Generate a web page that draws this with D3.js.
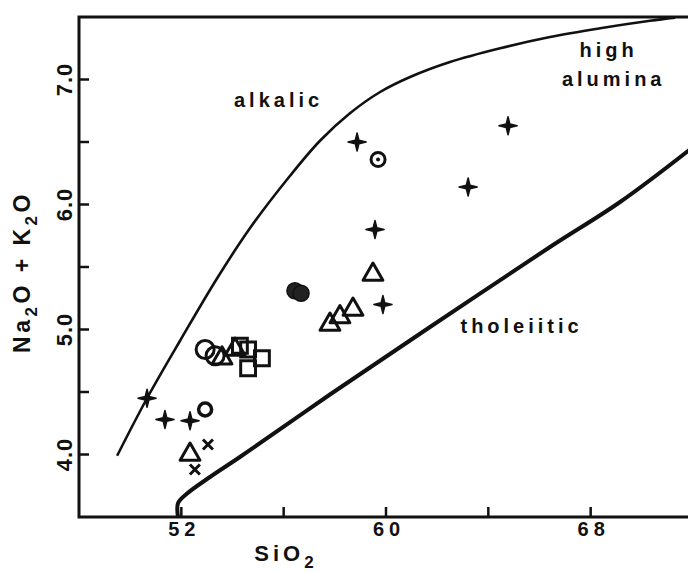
<!DOCTYPE html>
<html>
<head>
<meta charset="utf-8">
<script src="https://cdn.jsdelivr.net/npm/d3@7"></script>
<style>
  html, body { margin: 0; padding: 0; background: #fff; }
  svg text { font-family: "Liberation Sans", Arial, sans-serif; font-weight: bold; fill: #111; }
</style>
</head>
<body>
<svg id="chart" width="688" height="573"></svg>
<script>
// Boundary curves [SiO2, Na2O+K2O]
const alkalicLine = [
  [49.49, 3.99], [50.66, 4.45], [51.95, 4.91], [53.40, 5.41], [54.68, 5.81],
  [56.25, 6.23], [57.42, 6.51], [58.59, 6.73], [59.77, 6.90], [60.94, 7.02],
  [62.50, 7.14], [64.46, 7.25], [66.41, 7.34], [68.37, 7.41], [70.32, 7.47],
  [71.30, 7.495]
];
const tholeiiticLine = [
  [51.87, 3.50], [51.87, 3.61], [52.18, 3.68], [53.12, 3.82], [54.29, 3.98],
  [57.81, 4.48], [61.72, 5.02], [66.41, 5.66], [69.15, 6.02], [71.88, 6.44]
];

// Samples by symbol
const plusPts = [
  [50.66, 4.45], [51.36, 4.28], [52.34, 4.27], [58.87, 6.50],
  [59.57, 5.80], [59.88, 5.20], [63.21, 6.14], [64.77, 6.63]
];
const bullseyePts = [[59.69, 6.36]];
const smallCirclePts = [[52.93, 4.36]];
const circlePts = [[52.93, 4.84], [53.32, 4.79]];
const filledPts = [[56.44, 5.31], [56.68, 5.29]];
const trianglePts = [
  [53.59, 4.77], [54.10, 4.84], [52.34, 4.00], [57.81, 5.04],
  [58.20, 5.10], [58.71, 5.16], [59.49, 5.44]
];
const squarePts = [[54.29, 4.87], [54.61, 4.84], [55.15, 4.77], [54.61, 4.69]];
const crossPts = [[53.04, 4.08], [52.53, 3.88]];

const xTicks = [52, 56, 60, 64, 68];
const xTickLabels = ["52", "60", "68"];
const yTicks = [4.0, 4.5, 5.0, 5.5, 6.0, 6.5, 7.0];
const yTickLabels = ["4.0", "5.0", "6.0", "7.0"];

const fieldLabels = [
  { text: "alkalic", x: 55.8, y: 6.78 },
  { text: "high", x: 68.7, y: 7.18 },
  { text: "alumina", x: 68.9, y: 6.95 },
  { text: "tholeiitic", x: 65.3, y: 4.97 }
];

const svg = d3.select("#chart");

const x = d3.scaleLinear().domain([48, 72]).range([79, 693]);
const y = d3.scaleLinear().domain([3.5, 7.5]).range([517, 17]);

// Frame (right side runs off the picture)
svg.append("path")
  .attr("d", `M${x(72)},${y(7.5)}H${x(48)}V${y(3.5)}H${x(72)}`)
  .attr("fill", "none")
  .attr("stroke", "#111")
  .attr("stroke-width", 3);

// Inward ticks
svg.append("g")
  .selectAll("line")
  .data(xTicks)
  .join("line")
  .attr("x1", d => x(d))
  .attr("x2", d => x(d))
  .attr("y1", y(3.5))
  .attr("y2", y(3.5) - 10)
  .attr("stroke", "#111")
  .attr("stroke-width", 2.5);

svg.append("g")
  .selectAll("line")
  .data(yTicks)
  .join("line")
  .attr("x1", x(48))
  .attr("x2", x(48) + 10)
  .attr("y1", d => y(d))
  .attr("y2", d => y(d))
  .attr("stroke", "#111")
  .attr("stroke-width", 2.5);

// Tick labels
svg.append("g")
  .selectAll("text")
  .data(xTickLabels)
  .join("text")
  .attr("x", d => x(+d) + 3)
  .attr("y", 536)
  .attr("text-anchor", "middle")
  .attr("font-size", "20px")
  .attr("font-weight", "normal")
  .attr("letter-spacing", "5px")
  .text(d => d);

svg.append("g")
  .selectAll("text")
  .data(yTickLabels)
  .join("text")
  .attr("transform", d => `translate(72, ${y(+d)}) rotate(-90)`)
  .attr("text-anchor", "middle")
  .attr("font-size", "22px")
  .attr("font-weight", "normal")
  .attr("letter-spacing", "1px")
  .text(d => d);

// Axis titles
const xTitle = svg.append("text")
  .attr("x", 286)
  .attr("y", 561)
  .attr("text-anchor", "middle")
  .attr("font-size", "22px")
  .attr("letter-spacing", "4px");
xTitle.append("tspan").text("SiO");
xTitle.append("tspan").attr("dy", 7).attr("font-size", "17px").text("2");

const yTitle = svg.append("text")
  .attr("transform", "translate(30, 272) rotate(-90)")
  .attr("text-anchor", "middle")
  .attr("font-size", "23px")
  .attr("letter-spacing", "3.5px");
yTitle.append("tspan").text("Na");
yTitle.append("tspan").attr("dy", 7).attr("font-size", "17px").text("2");
yTitle.append("tspan").attr("dy", -7).text("O + K");
yTitle.append("tspan").attr("dy", 7).attr("font-size", "17px").text("2");
yTitle.append("tspan").attr("dy", -7).text("O");

// Field boundaries
svg.append("path")
  .datum(alkalicLine)
  .attr("d", d3.line().x(d => x(d[0])).y(d => y(d[1])).curve(d3.curveCatmullRom))
  .attr("fill", "none")
  .attr("stroke", "#111")
  .attr("stroke-width", 2.6);

svg.append("path")
  .datum(tholeiiticLine)
  .attr("d", d3.line().x(d => x(d[0])).y(d => y(d[1])).curve(d3.curveCatmullRom))
  .attr("fill", "none")
  .attr("stroke", "#111")
  .attr("stroke-width", 4)
  .attr("stroke-linejoin", "round");

// Field names
svg.append("g")
  .selectAll("text")
  .data(fieldLabels)
  .join("text")
  .attr("x", d => x(d.x))
  .attr("y", d => y(d.y))
  .attr("text-anchor", "middle")
  .attr("font-size", "20px")
  .attr("letter-spacing", "4px")
  .text(d => d.text);

// Symbols
const star4 = {
  draw(context, size) {
    const r = Math.sqrt(size) / 2, w = r * 0.2;
    context.moveTo(0, -r);
    context.lineTo(w, -w);
    context.lineTo(r, 0);
    context.lineTo(w, w);
    context.lineTo(0, r);
    context.lineTo(-w, w);
    context.lineTo(-r, 0);
    context.lineTo(-w, -w);
    context.closePath();
  }
};

const marks = svg.append("g");
const pos = d => `translate(${x(d[0])}, ${y(d[1])})`;

marks.selectAll(".plus")
  .data(plusPts)
  .join("path")
  .attr("class", "plus")
  .attr("transform", pos)
  .attr("d", d3.symbol().type(star4).size(330))
  .attr("fill", "#111")
  .attr("stroke", "#111")
  .attr("stroke-width", 1.5)
  .attr("stroke-linejoin", "round");

marks.selectAll(".circle")
  .data(circlePts)
  .join("circle")
  .attr("class", "circle")
  .attr("cx", d => x(d[0]))
  .attr("cy", d => y(d[1]))
  .attr("r", 9)
  .attr("fill", "none")
  .attr("stroke", "#111")
  .attr("stroke-width", 3);

marks.selectAll(".smallcircle")
  .data(smallCirclePts)
  .join("circle")
  .attr("class", "smallcircle")
  .attr("cx", d => x(d[0]))
  .attr("cy", d => y(d[1]))
  .attr("r", 6.5)
  .attr("fill", "none")
  .attr("stroke", "#111")
  .attr("stroke-width", 3.5);

marks.selectAll(".bull")
  .data(bullseyePts)
  .join("circle")
  .attr("class", "bull")
  .attr("cx", d => x(d[0]))
  .attr("cy", d => y(d[1]))
  .attr("r", 7)
  .attr("fill", "none")
  .attr("stroke", "#111")
  .attr("stroke-width", 3);

marks.selectAll(".bulldot")
  .data(bullseyePts)
  .join("circle")
  .attr("class", "bulldot")
  .attr("cx", d => x(d[0]))
  .attr("cy", d => y(d[1]))
  .attr("r", 2)
  .attr("fill", "#111");

marks.selectAll(".filled")
  .data(filledPts)
  .join("circle")
  .attr("class", "filled")
  .attr("cx", d => x(d[0]))
  .attr("cy", d => y(d[1]))
  .attr("r", 8)
  .attr("fill", "#222")
  .attr("stroke", "#111")
  .attr("stroke-width", 1.5);

marks.selectAll(".tri")
  .data(trianglePts)
  .join("path")
  .attr("class", "tri")
  .attr("transform", pos)
  .attr("d", d3.symbol().type(d3.symbolTriangle).size(170))
  .attr("fill", "none")
  .attr("stroke", "#111")
  .attr("stroke-width", 3)
  .attr("stroke-linejoin", "round");

marks.selectAll(".sq")
  .data(squarePts)
  .join("path")
  .attr("class", "sq")
  .attr("transform", pos)
  .attr("d", d3.symbol().type(d3.symbolSquare).size(220))
  .attr("fill", "none")
  .attr("stroke", "#111")
  .attr("stroke-width", 3);

marks.selectAll(".x")
  .data(crossPts)
  .join("path")
  .attr("class", "x")
  .attr("transform", pos)
  .attr("d", "M-5,-5L5,5M-5,5L5,-5")
  .attr("fill", "none")
  .attr("stroke", "#111")
  .attr("stroke-width", 3);
</script>
</body>
</html>
